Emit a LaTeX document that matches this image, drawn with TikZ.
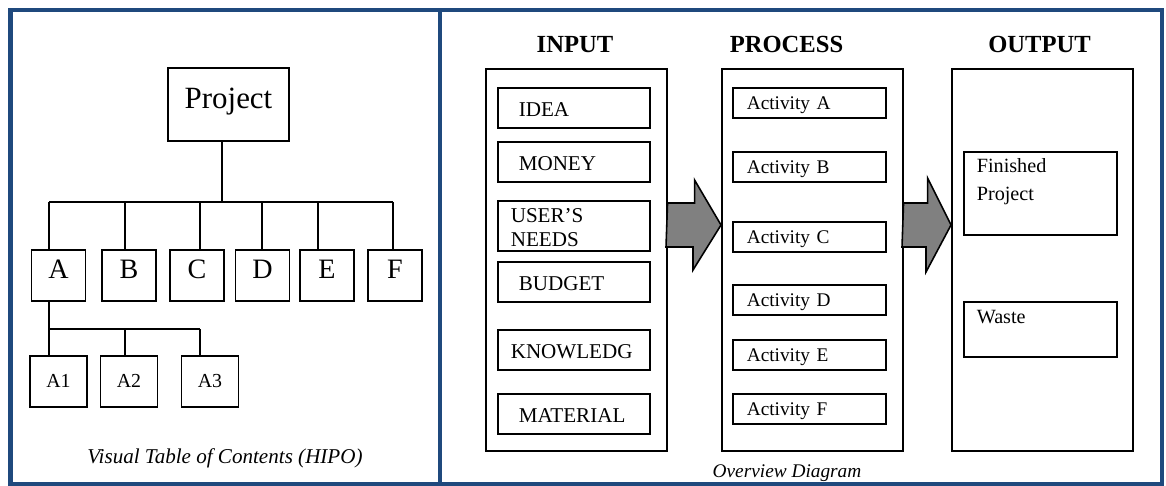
\documentclass[tikz,border=0pt]{standalone}
\usepackage{fontspec}
\setmainfont{Liberation Serif}
\usetikzlibrary{calc}
\definecolor{frameBlue}{RGB}{31,73,125}
\definecolor{arrowGray}{RGB}{128,128,128}

\begin{document}
\begin{tikzpicture}[x=0.02cm, y=-0.02cm, line width=0.9pt,
    frameStyle/.style={draw=frameBlue, line width=2.8pt},
    projStyle/.style={rectangle, draw, minimum width=2.42cm, inner sep=0, text height=0.82cm, text depth=0.64cm, font=\fontsize{17.6}{20}\selectfont},
    letterStyle/.style={rectangle, draw, minimum width=1.08cm, inner sep=0, text height=0.58cm, text depth=0.44cm, font=\fontsize{16}{18}\selectfont},
    subStyle/.style={rectangle, draw, minimum width=1.14cm, inner sep=0, text height=0.62cm, text depth=0.40cm, font=\fontsize{11.3}{13}\selectfont},
    groupStyle/.style={rectangle, draw, anchor=north west, minimum width=3.62cm, minimum height=7.64cm},
    titleStyle/.style={anchor=base, font=\fontsize{14}{16}\selectfont\bfseries},
    inStyle/.style={rectangle, draw, anchor=north west, inner ysep=0, inner xsep=0.42cm, text width=2.2cm, align=left, text height=0.58cm, text depth=0.22cm, font=\fontsize{12}{13.6}\selectfont},
    actStyle/.style={rectangle, draw, anchor=north west, inner ysep=0, inner xsep=0.28cm, text width=2.5cm, align=left, text height=0.44cm, text depth=0.16cm, font=\fontsize{11}{13}\selectfont},
    outStyle/.style={rectangle, draw, anchor=north west, inner ysep=0, inner xsep=0.26cm, text width=2.54cm, align=left, font=\fontsize{11.5}{16}\selectfont},
    capStyle/.style={anchor=base, font=\fontsize{12}{14}\selectfont\itshape},
    arrowStyle/.style={draw, fill=arrowGray, line join=miter}]
    \useasboundingbox (0,0) rectangle (1166,486);

    % frame
    \draw[frameStyle] (10.5,10) rectangle (1162,484.5);
    \draw[frameStyle] (440,10) -- (440,484.5);

    % HIPO chart
    \node[projStyle] (proj) at (228.5,104.5) {Project};

    \node[letterStyle] (box_A) at ( 58.5,275.5) {A};
    \node[letterStyle] (box_B) at (129  ,275.5) {B};
    \node[letterStyle] (box_C) at (197  ,275.5) {C};
    \node[letterStyle] (box_D) at (262.5,275.5) {D};
    \node[letterStyle] (box_E) at (327  ,275.5) {E};
    \node[letterStyle] (box_F) at (395  ,275.5) {F};

    \node[subStyle] (box_A1) at ( 58.5,381.5) {A1};
    \node[subStyle] (box_A2) at (129  ,381.5) {A2};
    \node[subStyle] (box_A3) at (210  ,381.5) {A3};

    \coordinate (bus_top) at (222,202);
    \coordinate (drop_A) at ( 49,202);
    \coordinate (drop_B) at (125,202);
    \coordinate (drop_C) at (200,202);
    \coordinate (drop_D) at (262,202);
    \coordinate (drop_E) at (318,202);
    \coordinate (drop_F) at (393,202);
    \coordinate (sub_1) at ( 49,329);
    \coordinate (sub_2) at (125,329);
    \coordinate (sub_3) at (200,329);

    \draw (proj.south -| bus_top) -- (bus_top);
    \draw (drop_A) -- (drop_F);
    \draw (drop_A) -- (drop_A |- box_A.north);
    \draw (drop_B) -- (drop_B |- box_B.north);
    \draw (drop_C) -- (drop_C |- box_C.north);
    \draw (drop_D) -- (drop_D |- box_D.north);
    \draw (drop_E) -- (drop_E |- box_E.north);
    \draw (drop_F) -- (drop_F |- box_F.north);

    \draw (box_A.south -| sub_1) -- (sub_1) -- (sub_3);
    \draw (sub_1) -- (sub_1 |- box_A1.north);
    \draw (sub_2) -- (sub_2 |- box_A2.north);
    \draw (sub_3) -- (sub_3 |- box_A3.north);

    \node[capStyle] (cap_hipo) at (225,463) {Visual Table of Contents (HIPO)};

    % overview diagram
    \node[titleStyle] (title_in)   at (575  ,53) {INPUT};
    \node[titleStyle] (title_proc) at (786.5,53) {PROCESS};
    \node[titleStyle] (title_out)  at (1039.5,53) {OUTPUT};

    \node[groupStyle] (in_box)   at (485,68) {};
    \node[groupStyle] (proc_box) at (721,68) {};
    \node[groupStyle] (out_box)  at (951,68) {};

    \node[inStyle] (in_0) at (497, 87) {IDEA};
    \node[inStyle] (in_1) at (497,141) {MONEY};
    \node[inStyle, inner xsep=0.26cm, text width=2.52cm, text height=0.44cm, text depth=0.56cm] (in_2) at (497,200) {USER’S\\NEEDS};
    \node[inStyle] (in_3) at (497,261) {BUDGET};
    \node[inStyle, inner xsep=0.26cm, text width=2.52cm] (in_4) at (497,329) {KNOWLEDG};
    \node[inStyle] (in_5) at (497,393) {MATERIAL};

    \node[actStyle] (act_0) at (732, 87) {Activity A};
    \node[actStyle] (act_1) at (732,151) {Activity B};
    \node[actStyle] (act_2) at (732,221) {Activity C};
    \node[actStyle] (act_3) at (732,284) {Activity D};
    \node[actStyle] (act_4) at (732,339) {Activity E};
    \node[actStyle] (act_5) at (732,393) {Activity F};

    \node[outStyle, text height=0.42cm, text depth=1.24cm] (out_0) at (963,151) {Finished\\Project};
    \node[outStyle, text height=0.44cm, text depth=0.66cm] (out_1) at (963,301) {Waste};

    \draw[arrowStyle] ($(in_box.north east)+(0,135)$) -- ++(27,0) -- ++(0,-23) -- ($(proc_box.north west)+(0,157)$) -- ++(-28,45) -- ++(0,-23) -- ++(-27,0) -- cycle;
    \draw[arrowStyle] ($(proc_box.north east)+(0,135)$) -- ++(24,0) -- ++(0,-25) -- ($(out_box.north west)+(0,157)$) -- ++(-25,47) -- ++(0,-25) -- ++(-24,0) -- cycle;

    \node[capStyle, font=\fontsize{11}{13}\selectfont\itshape] (cap_over) at (787,477) {Overview Diagram};
\end{tikzpicture}
\end{document}
